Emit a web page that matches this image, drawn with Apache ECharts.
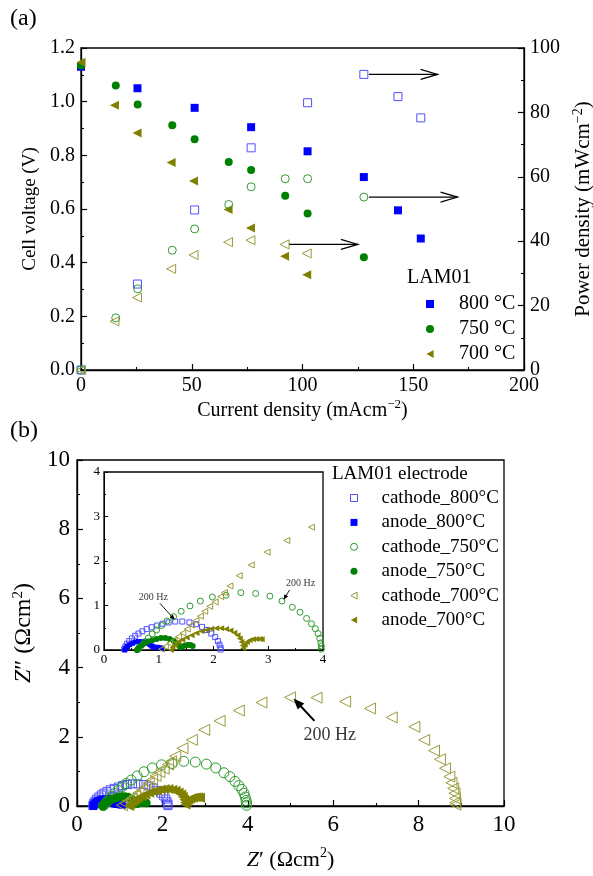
<!DOCTYPE html>
<html><head><meta charset="utf-8">
<script src="https://cdn.jsdelivr.net/npm/echarts@6/dist/echarts.min.js"></script>
<style>html,body{margin:0;padding:0;background:#fff}#c{width:593px;height:876px}</style>
</head><body><div id="c"></div>
<script>
// ---------- (a) polarisation data ----------
const j800 = [0, 25.5, 51.3, 76.8, 102.3, 127.7, 143.1, 153.4];
const v800 = [1.13, 1.05, 0.977, 0.905, 0.815, 0.719, 0.595, 0.49];
const p800 = [0, 26.7, 49.7, 69.0, 83.0, 91.8, 84.9, 78.3];
const j750 = [0, 15.7, 25.6, 41.2, 51.3, 66.7, 76.8, 92.2, 102.3, 127.7];
const v750 = [1.135, 1.06, 0.989, 0.912, 0.86, 0.775, 0.745, 0.649, 0.583, 0.42];
const p750 = [0, 16.2, 25.2, 37.2, 43.8, 51.4, 56.9, 59.4, 59.4, 53.7];
const j700 = [0, 15.1, 25.3, 40.7, 50.8, 66.4, 76.5, 91.9, 101.9];
const v700 = [1.147, 0.987, 0.883, 0.773, 0.704, 0.598, 0.529, 0.424, 0.355];
const p700 = [0, 15.1, 22.5, 31.4, 35.7, 39.7, 40.3, 39.0, 36.2];
const legendA = ['800 °C', '750 °C', '700 °C'];

// ---------- (b) impedance data [Z', Z''] ----------
const cathode800 = [[0.37,0.02],[0.39,0.08],[0.42,0.14],[0.46,0.2],[0.51,0.26],[0.57,0.32],[0.63,0.37],[0.7,0.42],[0.78,0.47],[0.87,0.51],[0.97,0.55],[1.07,0.59],[1.18,0.62],[1.3,0.64],[1.43,0.64],[1.56,0.62],[1.68,0.58],[1.79,0.52],[1.88,0.45],[1.96,0.37],[2.03,0.29],[2.08,0.2],[2.11,0.12],[2.13,0.05],[2.13,0.01]];
const anode800 = [[0.38,0.0],[0.4,0.04],[0.43,0.08],[0.47,0.12],[0.52,0.15],[0.57,0.18],[0.63,0.19],[0.69,0.19],[0.75,0.18],[0.8,0.15],[0.84,0.12],[0.87,0.09],[0.9,0.07],[0.94,0.06],[0.98,0.06],[1.02,0.05],[1.06,0.04]];
const cathode750 = [[0.62,0.01],[0.66,0.06],[0.7,0.12],[0.75,0.19],[0.81,0.27],[0.88,0.36],[0.96,0.45],[1.05,0.55],[1.15,0.65],[1.27,0.75],[1.41,0.87],[1.57,0.99],[1.76,1.1],[1.98,1.19],[2.23,1.23],[2.5,1.29],[2.77,1.27],[3.03,1.21],[3.25,1.1],[3.44,0.96],[3.58,0.85],[3.7,0.71],[3.79,0.59],[3.86,0.48],[3.91,0.37],[3.94,0.26],[3.96,0.16],[3.97,0.09],[3.97,0.02]];
const anode750 = [[0.6,0.0],[0.63,0.05],[0.68,0.1],[0.74,0.15],[0.81,0.19],[0.88,0.22],[0.96,0.25],[1.04,0.27],[1.12,0.27],[1.2,0.25],[1.27,0.21],[1.32,0.16],[1.36,0.11],[1.39,0.07],[1.43,0.08],[1.48,0.1],[1.53,0.11],[1.58,0.11],[1.62,0.09]];
const cathode700 = [[1.05,0.02],[1.12,0.08],[1.2,0.15],[1.28,0.22],[1.36,0.3],[1.44,0.38],[1.52,0.47],[1.6,0.56],[1.68,0.66],[1.76,0.76],[1.84,0.87],[1.93,0.98],[2.03,1.08],[2.13,1.2],[2.2,1.29],[2.3,1.44],[2.47,1.67],[2.69,1.91],[2.98,2.2],[3.34,2.46],[3.79,2.76],[4.32,2.99],[4.99,3.14],[5.61,3.13],[6.28,3.02],[6.86,2.82],[7.37,2.56],[7.9,2.29],[8.13,1.91],[8.36,1.6],[8.5,1.35],[8.62,1.09],[8.72,0.85],[8.77,0.67],[8.81,0.51],[8.84,0.37],[8.85,0.22],[8.86,0.1],[8.86,0.04]];
const anode700 = [[1.22,0.0],[1.25,0.06],[1.3,0.12],[1.36,0.18],[1.43,0.23],[1.51,0.28],[1.6,0.33],[1.69,0.38],[1.78,0.42],[1.87,0.45],[1.96,0.48],[2.05,0.49],[2.14,0.49],[2.23,0.47],[2.31,0.44],[2.38,0.39],[2.44,0.33],[2.48,0.26],[2.51,0.18],[2.53,0.1],[2.54,0.04],[2.57,0.12],[2.61,0.18],[2.66,0.22],[2.72,0.24],[2.78,0.25],[2.84,0.25],[2.88,0.24]];
const legendB = ['cathode_800°C', 'anode_800°C', 'cathode_750°C', 'anode_750°C', 'cathode_700°C', 'anode_700°C'];

// annotations: arrows [x1, y1, x2, y2] in data units
const arrowsA = [[130, 91.8, 161, 91.8], [130, 53.7, 170, 53.7], [94, 39.0, 125, 39.0]];
const arrowMain = [[5.56, 2.46, 5.07, 3.11]];
const arrowsInset = [[1.02, 1.05, 1.29, 0.68], [3.39, 1.35, 3.28, 1.13]];
const labelMain = [[5.92, 2.05]];
const labelsInset = [[0.90, 1.19], [3.59, 1.50]];

const F = 'Liberation Serif';
const BLUE = '#0000ff', GREEN = '#008000', OLIVE = '#808000';
const LBLUE = '#5050ff', LGREEN = '#2f9a2f', LOLIVE = '#9a9a3a';
const LEFT_TRI = 'path://M0,5L9,0L9,10Z';

function zip(xs, ys) { return xs.map((x, i) => [x, ys[i]]); }
function legendItems(names) {
  return names.map(n => (n.indexOf('700') >= 0 ? { name: n, icon: LEFT_TRI } : { name: n }));
}

function filled(name, data, sym, size, color, xi, yi, rot) {
  return { type: 'scatter', name, data, xAxisIndex: xi, yAxisIndex: yi, symbol: sym, symbolSize: size,
    symbolRotate: rot || 0, itemStyle: { color, opacity: 1 }, z: 3 };
}
function hollow(name, data, sym, size, color, xi, yi, rot, bw) {
  return { type: 'scatter', name, data, xAxisIndex: xi, yAxisIndex: yi, symbol: sym, symbolSize: size,
    symbolRotate: rot || 0, itemStyle: { color: 'rgba(0,0,0,0)', borderColor: color, borderWidth: bw || 1, opacity: 1 }, z: 3 };
}

function arrowSeries(data, xi, yi, kind, headLen, headW, lw) {
  return {
    type: 'custom', xAxisIndex: xi, yAxisIndex: yi, data, z: 10, silent: true, clip: false,
    renderItem: function (params, api) {
      const a = api.coord([api.value(0), api.value(1)]);
      const b = api.coord([api.value(2), api.value(3)]);
      const dx = b[0] - a[0], dy = b[1] - a[1], L = Math.hypot(dx, dy);
      const ux = dx / L, uy = dy / L;
      const bx = b[0] - ux * headLen, by = b[1] - uy * headLen;
      const p1 = [bx - uy * headW, by + ux * headW], p2 = [bx + uy * headW, by - ux * headW];
      const ch = [];
      if (kind === 'open') {
        ch.push({ type: 'line', shape: { x1: a[0], y1: a[1], x2: b[0], y2: b[1] }, style: { stroke: '#000', lineWidth: lw } });
        ch.push({ type: 'polyline', shape: { points: [p1, b, p2] }, style: { stroke: '#000', fill: null, lineWidth: lw } });
      } else {
        ch.push({ type: 'line', shape: { x1: a[0], y1: a[1], x2: bx + ux, y2: by + uy }, style: { stroke: '#000', lineWidth: lw } });
        ch.push({ type: 'polygon', shape: { points: [p1, b, p2] }, style: { fill: '#000' } });
      }
      return { type: 'group', children: ch };
    }
  };
}
function textSeries(data, xi, yi, size) {
  return { type: 'scatter', data, xAxisIndex: xi, yAxisIndex: yi, symbolSize: 1, itemStyle: { color: 'rgba(0,0,0,0)' },
    silent: true, z: 10, clip: false,
    label: { show: true, position: 'inside', formatter: '200 Hz', fontFamily: F, fontSize: size, color: '#000' } };
}

const axLine = { show: true, onZero: false, lineStyle: { color: '#000', width: 1.3 } };
function axis(o) {
  return Object.assign({
    type: 'value', axisLine: axLine, splitLine: { show: false },
    axisTick: { show: true, inside: true, length: 6, lineStyle: { color: '#000', width: 1.2 } },
    minorTick: { show: true, splitNumber: 2, length: 3, lineStyle: { color: '#000', width: 1.1 } },
    axisLabel: { color: '#000', fontFamily: F, fontSize: 20, margin: 6 },
    nameLocation: 'middle', nameTextStyle: { color: '#000', fontFamily: F }
  }, o);
}

const gridStyle = { show: true, borderColor: '#000', borderWidth: 1.3, backgroundColor: 'rgba(0,0,0,0)',
  containLabel: false, outerBoundsMode: 'none' };

const option = {
  animation: false,
  backgroundColor: '#fff',
  title: [
    { text: '(a)', left: 10, top: 7, padding: 0, textStyle: { fontFamily: F, fontSize: 24, fontWeight: 'normal', color: '#000' } },
    { text: '(b)', left: 10, top: 419, padding: 0, textStyle: { fontFamily: F, fontSize: 24, fontWeight: 'normal', color: '#000' } },
    { text: 'LAM01', left: 407, top: 268, padding: 0, textStyle: { fontFamily: F, fontSize: 20, fontWeight: 'normal', color: '#000' } },
    { text: 'LAM01 electrode', left: 332, top: 465, padding: 0, textStyle: { fontFamily: F, fontSize: 19, fontWeight: 'normal', color: '#000' } }
  ],
  legend: [
    { data: legendItems(legendA), orient: 'vertical', left: 426, top: 293, padding: 0, itemWidth: 8, itemHeight: 8, itemGap: 3,
      selectedMode: false,
      textStyle: { fontFamily: F, fontSize: 20, color: '#000', lineHeight: 22, padding: [0, 0, 0, 20] } },
    { data: legendItems(legendB), orient: 'vertical', left: 350, top: 488, padding: 0, itemWidth: 7, itemHeight: 7, itemGap: 4.4,
      selectedMode: false, itemStyle: { borderWidth: 1 },
      textStyle: { fontFamily: F, fontSize: 19, color: '#000', lineHeight: 20, padding: [0, 0, 0, 19] } }
  ],
  grid: [
    Object.assign({ left: 81, top: 48, width: 443, height: 322 }, gridStyle),
    Object.assign({ left: 77, top: 460, width: 427, height: 346 }, gridStyle),
    Object.assign({ left: 104, top: 472, width: 219, height: 178 }, gridStyle)
  ],
  xAxis: [
    axis({ gridIndex: 0, min: 0, max: 200, interval: 50,
      name: '{n|Current density (mAcm}{s|−2}{n|)}', nameGap: 28,
      nameTextStyle: { rich: { n: { fontFamily: F, fontSize: 20, lineHeight: 26, color: '#000' }, s: { fontFamily: F, fontSize: 13, lineHeight: 13, verticalAlign: 'top', color: '#000' } } } }),
    axis({ gridIndex: 1, min: 0, max: 10, interval: 2,
      axisLabel: { color: '#000', fontFamily: F, fontSize: 23, margin: 7 },
      name: '{i|Z}{n|′ (Ωcm}{s|2}{n|)}', nameGap: 40,
      nameTextStyle: { rich: { i: { fontFamily: F, fontStyle: 'italic', fontSize: 22, lineHeight: 28, color: '#000' }, n: { fontFamily: F, fontSize: 22, lineHeight: 28, color: '#000' }, s: { fontFamily: F, fontSize: 14, lineHeight: 14, verticalAlign: 'top', color: '#000' } } } }),
    axis({ gridIndex: 2, min: 0, max: 4, interval: 1,
      axisTick: { show: true, inside: true, length: 4, lineStyle: { color: '#000', width: 1 } },
      minorTick: { show: true, splitNumber: 2, length: 2, lineStyle: { color: '#000', width: 1 } },
      axisLine: { show: true, onZero: false, lineStyle: { color: '#000', width: 1 } },
      axisLabel: { color: '#000', fontFamily: F, fontSize: 13, margin: 3 } })
  ],
  yAxis: [
    axis({ gridIndex: 0, min: 0, max: 1.2, interval: 0.2,
      axisLabel: { color: '#000', fontFamily: F, fontSize: 20, margin: 6, formatter: v => v.toFixed(1) },
      name: 'Cell voltage (V)', nameGap: 40, nameTextStyle: { color: '#000', fontFamily: F, fontSize: 19 } }),
    axis({ gridIndex: 0, position: 'right', min: 0, max: 100, interval: 20,
      name: '{n|Power density (mWcm}{s|−2}{n|)}', nameGap: 43, nameRotate: 90,
      nameTextStyle: { rich: { n: { fontFamily: F, fontSize: 21, lineHeight: 26, color: '#000' }, s: { fontFamily: F, fontSize: 14, lineHeight: 13, verticalAlign: 'top', color: '#000' } } } }),
    axis({ gridIndex: 1, min: 0, max: 10, interval: 2,
      axisLabel: { color: '#000', fontFamily: F, fontSize: 23, margin: 7 },
      name: '{i|Z}{n|″ (Ωcm}{s|2}{n|)}', nameGap: 31,
      nameTextStyle: { rich: { i: { fontFamily: F, fontStyle: 'italic', fontSize: 24, lineHeight: 28, color: '#000' }, n: { fontFamily: F, fontSize: 24, lineHeight: 28, color: '#000' }, s: { fontFamily: F, fontSize: 15, lineHeight: 14, verticalAlign: 'top', color: '#000' } } } }),
    axis({ gridIndex: 2, min: 0, max: 4, interval: 1,
      axisTick: { show: true, inside: true, length: 4, lineStyle: { color: '#000', width: 1 } },
      minorTick: { show: true, splitNumber: 2, length: 2, lineStyle: { color: '#000', width: 1 } },
      axisLine: { show: true, onZero: false, lineStyle: { color: '#000', width: 1 } },
      axisLabel: { color: '#000', fontFamily: F, fontSize: 13, margin: 4 } })
  ],
  series: [
    // (a) voltage (filled) and power (hollow)
    filled('800 °C', zip(j800, v800), 'rect', 8, BLUE, 0, 0),
    filled('750 °C', zip(j750, v750), 'circle', 8, GREEN, 0, 0),
    filled('700 °C', zip(j700, v700), 'triangle', 9, OLIVE, 0, 0, 90),
    hollow('800 °C power', zip(j800, p800), 'rect', 8, LBLUE, 0, 1),
    hollow('750 °C power', zip(j750, p750), 'circle', 8, LGREEN, 0, 1),
    hollow('700 °C power', zip(j700, p700), 'triangle', 9, LOLIVE, 0, 1, 90),
    arrowSeries(arrowsA, 0, 1, 'open', 17, 5, 1.2),
    // (b) main
    hollow(legendB[0], cathode800, 'rect', 8, LBLUE, 1, 2),
    filled(legendB[1], anode800, 'rect', 8, BLUE, 1, 2),
    hollow(legendB[2], cathode750, 'circle', 10, LGREEN, 1, 2),
    filled(legendB[3], anode750, 'circle', 9, GREEN, 1, 2),
    hollow(legendB[4], cathode700, 'triangle', 11, LOLIVE, 1, 2, 90),
    filled(legendB[5], anode700, 'triangle', 10, OLIVE, 1, 2, 90),
    arrowSeries(arrowMain, 1, 2, 'filled', 11, 4.5, 2),
    textSeries(labelMain, 1, 2, 18),
    // (b) inset
    hollow(legendB[0], cathode800, 'rect', 5, LBLUE, 2, 3),
    filled(legendB[1], anode800, 'rect', 5, BLUE, 2, 3),
    hollow(legendB[2], cathode750, 'circle', 6, LGREEN, 2, 3),
    filled(legendB[3], anode750, 'circle', 6, GREEN, 2, 3),
    hollow(legendB[4], cathode700, 'triangle', 6, LOLIVE, 2, 3, 90),
    filled(legendB[5], anode700, 'triangle', 6, OLIVE, 2, 3, 90),
    arrowSeries(arrowsInset, 2, 3, 'filled', 5, 2.2, 0.9),
    textSeries(labelsInset, 2, 3, 10)
  ]
};
const chart = echarts.init(document.getElementById('c'), null, { renderer: 'canvas' });
chart.setOption(option);
</script></body></html>
